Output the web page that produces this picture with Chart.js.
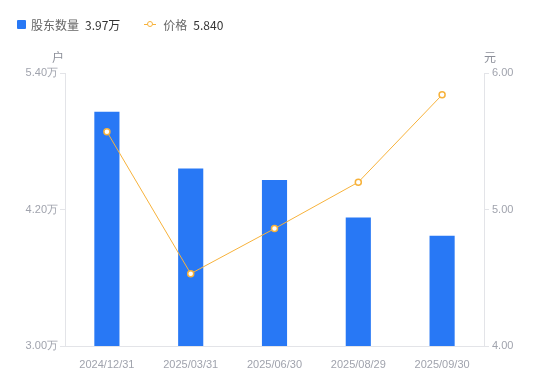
<!DOCTYPE html>
<html>
<head>
<meta charset="utf-8">
<script src="https://cdn.jsdelivr.net/npm/chart.js@4"></script>
<style>
  html, body { margin: 0; padding: 0; background: #fff; }
  #wrap { position: relative; width: 550px; height: 381px; }
  #legend { position: absolute; left: 17px; top: 16px; font-family: "Noto Sans CJK SC", "Noto Sans", sans-serif; font-size: 12px; display: flex; align-items: center; }
  .item { display: flex; align-items: center; margin-right: 24px; }
  .name { color: #666; margin-right: 6px; }
  .val { color: #333; }
  .sq { width: 9px; height: 9px; background: #2878f5; border-radius: 1px; margin-right: 5px; }
  .ln { position: relative; width: 12px; height: 9px; margin-right: 7px; }
  .ln::before { content: ""; position: absolute; left: 0; right: 0; top: 4px; height: 1px; background: #f7b23b; }
  .ln::after { content: ""; position: absolute; left: 2.5px; top: 1px; width: 4px; height: 4px; border: 1.5px solid #f7b23b; border-radius: 50%; background: #fff; }
</style>
</head>
<body>
<div id="wrap">
  <canvas id="c" width="550" height="381"></canvas>
  <div id="legend">
    <div class="item"><span class="sq"></span><span class="name">股东数量</span><span class="val">3.97万</span></div>
    <div class="item"><span class="ln"></span><span class="name">价格</span><span class="val">5.840</span></div>
  </div>
</div>
<script>
let dates = ["2024/12/31", "2025/03/31", "2025/06/30", "2025/08/29", "2025/09/30"];
let holders = [5.06, 4.56, 4.46, 4.13, 3.97];
let prices = [5.57, 4.53, 4.86, 5.20, 5.84];

let blue = "#2878f5";
let orange = "#f7b23b";
let tickColor = "#a0a3ad";
let lineColor = "#e3e4e8";

const axisTitles = {
    id: "axisTitles",
    afterDraw(chart) {
        const ctx = chart.ctx;
        const area = chart.chartArea;
        ctx.save();
        ctx.font = "12px 'Noto Sans CJK SC', sans-serif";
        ctx.fillStyle = "#8c8f99";
        ctx.textAlign = "center";
        ctx.textBaseline = "middle";
        ctx.fillText("户", area.left - 7, 57);
        ctx.fillText("元", area.right + 6, 57);
        ctx.restore();
    }
};

new Chart(document.getElementById("c"), {
    type: "bar",
    data: {
        labels: dates,
        datasets: [
            {
                type: "line",
                label: "价格",
                data: prices,
                yAxisID: "y1",
                borderColor: orange,
                borderWidth: 1,
                pointRadius: 3,
                pointBorderWidth: 1.5,
                pointBackgroundColor: "#fff",
                pointBorderColor: orange,
                tension: 0,
                order: 0
            },
            {
                label: "股东数量",
                data: holders,
                yAxisID: "y",
                backgroundColor: blue,
                barPercentage: 0.3,
                categoryPercentage: 1,
                order: 1
            }
        ]
    },
    options: {
        responsive: false,
        animation: false,
        layout: { padding: { top: 73, left: 0, right: 0, bottom: 0 } },
        plugins: {
            legend: { display: false },
            tooltip: { enabled: false }
        },
        scales: {
            x: {
                grid: { display: false },
                border: { color: lineColor },
                ticks: { color: tickColor, font: { size: 11, family: "Liberation Sans, Arial, sans-serif" }, padding: 4, maxRotation: 0 },
                afterFit: s => { s.height = 35; }
            },
            y: {
                position: "left",
                min: 3.0,
                max: 5.4,
                grid: { display: true, drawOnChartArea: false, tickLength: 5, color: lineColor },
                border: { color: lineColor },
                ticks: {
                    stepSize: 1.2,
                    color: tickColor,
                    padding: 2,
                    font: { size: 11, family: "Liberation Sans, Arial, sans-serif" },
                    callback: v => v.toFixed(2) + "万"
                },
                afterFit: s => { s.width = 65; }
            },
            y1: {
                position: "right",
                min: 4,
                max: 6,
                grid: { display: true, drawOnChartArea: false, tickLength: 5, color: lineColor },
                border: { color: lineColor },
                ticks: {
                    stepSize: 1,
                    color: tickColor,
                    padding: 3,
                    font: { size: 11, family: "Liberation Sans, Arial, sans-serif" },
                    callback: v => v.toFixed(2)
                },
                afterFit: s => { s.width = 66; }
            }
        }
    },
    plugins: [axisTitles]
});
</script>
</body>
</html>
